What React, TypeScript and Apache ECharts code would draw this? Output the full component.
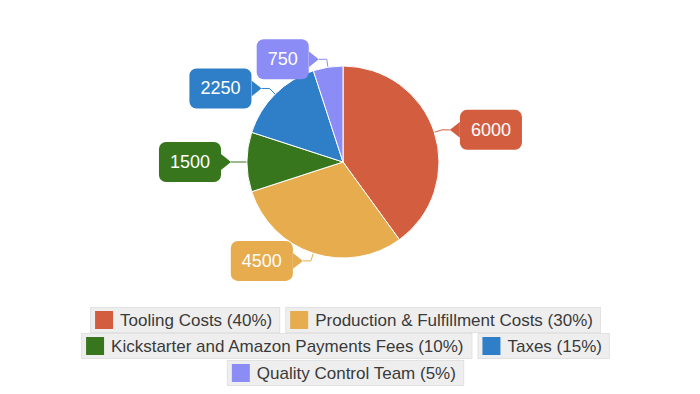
import React, { useEffect, useRef } from "react";
import * as echarts from "echarts";

const categories = [
  "Tooling Costs",
  "Production & Fulfillment Costs",
  "Kickstarter and Amazon Payments Fees",
  "Taxes",
  "Quality Control Team",
];
const values = [6000, 4500, 1500, 2250, 750];
const colors = ["#d35e3f", "#e6ac4e", "#38761d", "#2e7fc8", "#8b8cf5"];
const legendRows = [[0, 1], [2, 3], [4]];

function triangle(color: string, pointLeft: boolean): string {
  const pts = pointLeft ? "0,8 10,0 10,16" : "10,8 0,0 0,16";
  const svg = `<svg xmlns='http://www.w3.org/2000/svg' width='10' height='16'><polygon points='${pts}' fill='${color}'/></svg>`;
  return "data:image/svg+xml;charset=utf-8," + encodeURIComponent(svg);
}

export default function App() {
  const ref = useRef<HTMLDivElement>(null);
  useEffect(() => {
    if (!ref.current) return;
    const chart = echarts.init(ref.current, null, { renderer: "svg" });
    const total = values.reduce((a, b) => a + b, 0);
    const rich: any = {
      t: { fontSize: 17, lineHeight: 18, color: "#3a3a3a", padding: [0, 0, 0, 7], fontFamily: "Arial" },
    };
    colors.forEach((c, i) => {
      rich["s" + i] = { width: 18, height: 18, backgroundColor: c };
    });
    const legendTops = [307, 333, 360];
    const legends = legendRows.map((row, r) => ({
      data: row.map((i) => categories[i]),
      top: legendTops[r],
      left: "center",
      orient: "horizontal",
      padding: 0,
      itemGap: 0,
      itemWidth: 0,
      itemHeight: 0,
      selectedMode: false,
      formatter: (name: string) => {
        const i = categories.indexOf(name);
        const pct = Math.round((values[i] / total) * 100);
        return `{s${i}| }{t|${name} (${pct}%)}`;
      },
      textStyle: {
        backgroundColor: "#eeeeee",
        borderColor: "#e2e2e2",
        borderWidth: 1,
        padding: [3, 7, 3, 4],
        rich,
      },
    }));

    const data = categories.map((name, i) => {
      const right = i === 0;
      const lblRich: any = {
        v: {
          backgroundColor: colors[i],
          color: "#ffffff",
          fontSize: 18,
          lineHeight: 20,
          padding: [11, 11, 11, 11],
          borderRadius: 7,
          fontFamily: "Arial",
          verticalAlign: "middle",
        },
        a: {
          backgroundColor: { image: triangle(colors[i], right) },
          width: 10,
          height: 16,
          fontSize: 1,
          verticalAlign: "middle",
        },
      };
      return {
        name,
        value: values[i],
        itemStyle: { color: colors[i] },
        label: {
          formatter: right ? "{a| }{v|{c}}" : "{v|{c}}{a| }",
          rich: lblRich,
        },
        labelLine: { lineStyle: { color: colors[i], width: 1 } },
      };
    });

    chart.setOption({
      animation: false,
      legend: legends,
      series: [
        {
          type: "pie",
          center: [343, 162],
          radius: 96,
          startAngle: 90,
          clockwise: true,
          avoidLabelOverlap: false,
          itemStyle: { borderColor: "#ffffff", borderWidth: 1 },
          label: { show: true, position: "outside", distanceToLabelLine: 0 },
          labelLine: { show: true, length: 8, length2: 8, smooth: false },
          labelLayout: { hideOverlap: false },
          emphasis: { disabled: true },
          data,
        },
      ],
    });
    return () => chart.dispose();
  }, []);
  return (
    <div
      ref={ref}
      style={{ position: "fixed", left: 0, top: 0, width: 686, height: 394, background: "#fff" }}
    />
  );
}
